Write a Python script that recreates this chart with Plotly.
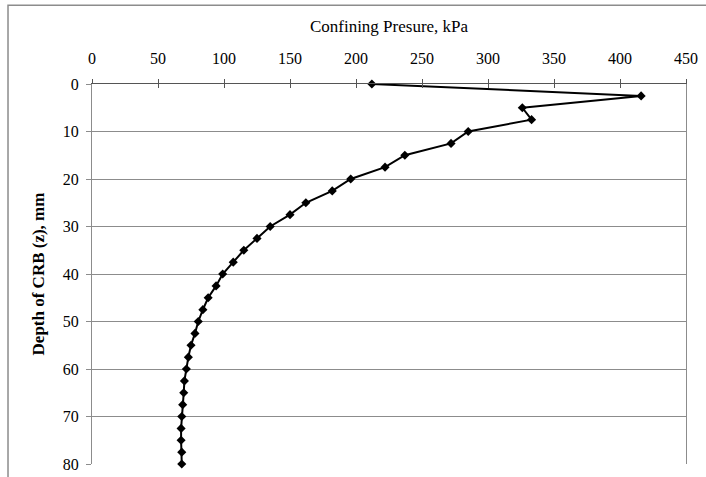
import plotly.graph_objects as go

depth_mm = [0, 2.5, 5, 7.5, 10, 12.5, 15, 17.5, 20, 22.5, 25, 27.5, 30, 32.5, 35, 37.5,
            40, 42.5, 45, 47.5, 50, 52.5, 55, 57.5, 60, 62.5, 65, 67.5, 70, 72.5, 75, 77.5, 80]
pressure_kpa = [212, 416, 326, 333, 285, 272, 237, 222, 196, 182, 162, 150, 135, 125, 115, 107,
                99, 94, 88, 84, 80.5, 78, 75, 73, 71.5, 70, 69.5, 68.7, 68, 67.5, 67.5, 68, 68]

x_ticks = [0, 50, 100, 150, 200, 250, 300, 350, 400, 450]
y_ticks = [0, 10, 20, 30, 40, 50, 60, 70, 80]

serif = "Liberation Serif"

fig = go.Figure()
fig.add_trace(go.Scatter(
    x=pressure_kpa, y=depth_mm, mode="lines+markers",
    line=dict(color="black", width=2),
    marker=dict(symbol="diamond", size=7, color="black"),
    showlegend=False, cliponaxis=False,
))
# invisible trace for the inner tick axis
fig.add_trace(go.Scatter(x=[None], y=[None], xaxis="x2", showlegend=False, hoverinfo="skip"))

fig.update_layout(
    width=706, height=477,
    margin=dict(l=92, r=20, t=84, b=13),
    paper_bgcolor="white", plot_bgcolor="white",
    font=dict(family=serif, size=16, color="black"),
    xaxis=dict(
        side="top", range=[0, 450], tickvals=x_ticks, ticktext=[str(v) for v in x_ticks],
        showgrid=False, zeroline=False, showline=True, linecolor="#555555", linewidth=1,
        ticks="outside", ticklen=4, tickcolor="#555555", automargin=False,
        ticklabelstandoff=9,
        title=dict(text="Confining Presure, kPa", font=dict(family=serif, size=17), standoff=12),
        tickfont=dict(family=serif, size=16, color="black"),
    ),
    xaxis2=dict(
        overlaying="x", side="top", range=[0, 450], tickvals=x_ticks, showticklabels=False,
        showgrid=False, zeroline=False, showline=False, ticks="inside", ticklen=4,
        tickcolor="#555555", anchor="y", automargin=False,
    ),
    yaxis=dict(
        range=[80, 0], tickvals=y_ticks, ticktext=[str(v) for v in y_ticks],
        showgrid=True, gridcolor="#8c8c8c", gridwidth=1, zeroline=False,
        showline=True, linecolor="#8c8c8c", linewidth=1, mirror=True,
        ticks="outside", ticklen=5, tickcolor="#8c8c8c", automargin=False,
        ticklabelstandoff=4,
        title=dict(text="<b>Depth of CRB (z), mm</b>", font=dict(family=serif, size=17), standoff=13),
        tickfont=dict(family=serif, size=16, color="black"),
    ),
    shapes=[dict(type="rect", xref="paper", yref="paper",
                 x0=-0.1414, x1=1.2, y0=-0.2, y1=1.207,
                 line=dict(color="#8c8c8c", width=1.5), fillcolor="rgba(0,0,0,0)", layer="below")],
)

fig.write_html("out.html", config={"displayModeBar": False},
               post_script="document.body.style.margin='0';document.body.style.overflow='hidden';")
